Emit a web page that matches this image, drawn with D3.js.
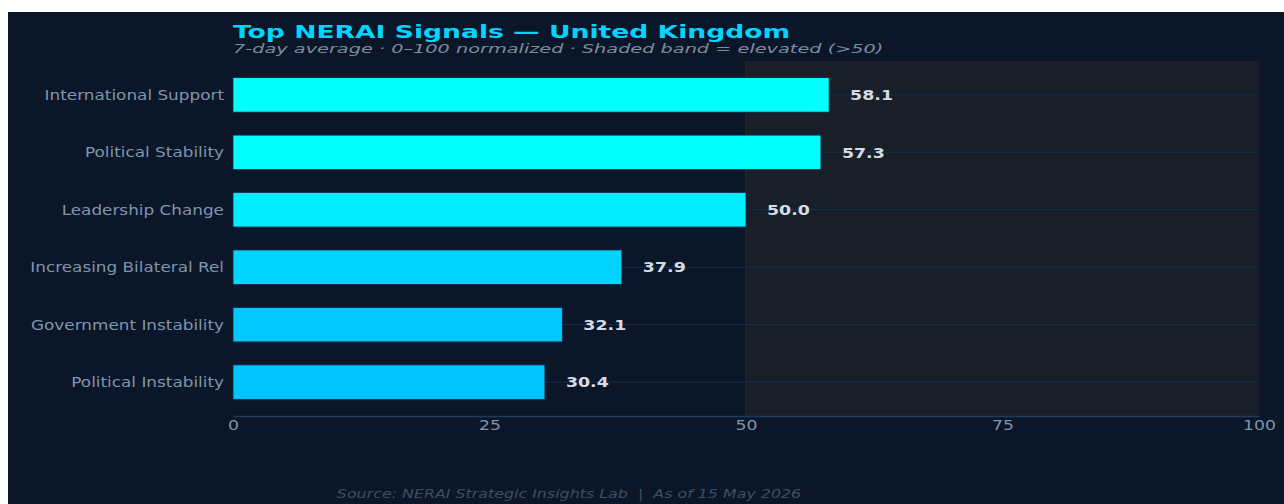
<!DOCTYPE html>
<html>
<head>
<meta charset="utf-8">
<script src="https://cdn.jsdelivr.net/npm/d3@7/dist/d3.min.js"></script>
<style>
  html, body { margin: 0; padding: 0; background: #fff; }
  svg { display: block; font-family: "DejaVu Sans", sans-serif; }
</style>
</head>
<body>
<div id="chart"></div>
<script>
// data
const categories = [
    "International Support",
    "Political Stability",
    "Leadership Change",
    "Increasing Bilateral Rel",
    "Government Instability",
    "Political Instability"
];
const values = [58.1, 57.3, 50.0, 37.9, 32.1, 30.4];
const xTicks = [0, 25, 50, 75, 100];
const elevatedFrom = 50;

const W = 1284, H = 504;
const plot = { left: 233, right: 1259, top: 61, bottom: 416 };

// the reference text is drawn wider than the font's natural width
const stretch = (px, py, sx) => `translate(${px},${py}) scale(${sx},1)`;

const svg = d3.select("#chart").append("svg")
    .attr("width", W)
    .attr("height", H);

// dark card
svg.append("rect")
    .attr("x", 8).attr("y", 12)
    .attr("width", W - 8).attr("height", H - 12)
    .attr("fill", "#0b1628");

const x = d3.scaleLinear().domain([0, 100]).range([plot.left, plot.right]);
const y = d3.scaleBand()
    .domain(categories)
    .range([plot.top, plot.bottom])
    .paddingInner(0.4)
    .paddingOuter(0.29);

const color = d3.scaleLinear()
    .domain([d3.min(values), d3.max(values)])
    .range(["#00c4ff", "#00ffff"]);

// elevated band
svg.append("rect")
    .attr("x", x(elevatedFrom))
    .attr("y", plot.top)
    .attr("width", x(100) - x(elevatedFrom))
    .attr("height", plot.bottom - plot.top)
    .attr("fill", "#191f28");

svg.append("line")
    .attr("x1", x(elevatedFrom)).attr("x2", x(elevatedFrom))
    .attr("y1", plot.top).attr("y2", plot.bottom)
    .attr("stroke", "#2e2a22")
    .attr("stroke-width", 1);

// horizontal grid at bar centers
svg.append("g")
    .selectAll("line")
    .data(categories)
    .enter().append("line")
    .attr("x1", plot.left).attr("x2", plot.right)
    .attr("y1", d => y(d) + y.bandwidth() / 2)
    .attr("y2", d => y(d) + y.bandwidth() / 2)
    .attr("stroke", "#16304a")
    .attr("stroke-width", 1);

// bars
svg.append("g")
    .selectAll("rect")
    .data(values)
    .enter().append("rect")
    .attr("x", x(0))
    .attr("y", (d, i) => y(categories[i]))
    .attr("width", d => x(d) - x(0))
    .attr("height", y.bandwidth())
    .attr("fill", d => color(d))
    .attr("stroke", "#0d2a44")
    .attr("stroke-width", 0.8);

// value labels
svg.append("g")
    .selectAll("text")
    .data(values)
    .enter().append("text")
    .attr("transform", (d, i) => stretch(x(d) + 21, y(categories[i]) + y.bandwidth() / 2, 1.2))
    .attr("dy", "0.36em")
    .attr("fill", "#d3dbe5")
    .style("font-size", "14.5px")
    .style("font-weight", "bold")
    .text(d => d.toFixed(1));

// category labels
svg.append("g")
    .selectAll("text")
    .data(categories)
    .enter().append("text")
    .attr("transform", d => stretch(plot.left - 9, y(d) + y.bandwidth() / 2, 1.23))
    .attr("dy", "0.36em")
    .attr("text-anchor", "end")
    .attr("fill", "#7f95ae")
    .style("font-size", "13.7px")
    .text(d => d);

// x axis
const xAxis = svg.append("g")
    .attr("transform", `translate(0,${plot.bottom})`)
    .call(d3.axisBottom(x).tickValues(xTicks).tickSize(0).tickPadding(5));
xAxis.select(".domain").attr("stroke", "#1e3a5c").attr("stroke-width", 1.5);
xAxis.selectAll("text")
    .attr("transform", "scale(1.3,1)")
    .attr("fill", "#7f95ae")
    .style("font-size", "13.3px")
    .style("font-family", "DejaVu Sans, sans-serif");

// title and subtitle
svg.append("text")
    .attr("transform", stretch(plot.left, 37.5, 1.52))
    .attr("fill", "#00d4ff")
    .style("font-size", "17.5px")
    .style("font-weight", "bold")
    .text("Top NERAI Signals \u2014 United Kingdom");

svg.append("text")
    .attr("transform", stretch(plot.left, 52.5, 1.485))
    .attr("fill", "#7b8ca0")
    .style("font-size", "13px")
    .style("font-style", "italic")
    .text("7-day average \u00b7 0\u2013100 normalized \u00b7 Shaded band = elevated (>50)");

// footer
svg.append("text")
    .attr("transform", stretch(569, 497.5, 1.38))
    .attr("text-anchor", "middle")
    .attr("fill", "#3d4e66")
    .attr("xml:space", "preserve")
    .style("white-space", "pre")
    .style("font-size", "11.5px")
    .style("font-style", "italic")
    .text("Source: NERAI Strategic Insights Lab  |  As of 15 May 2026");
</script>
</body>
</html>
